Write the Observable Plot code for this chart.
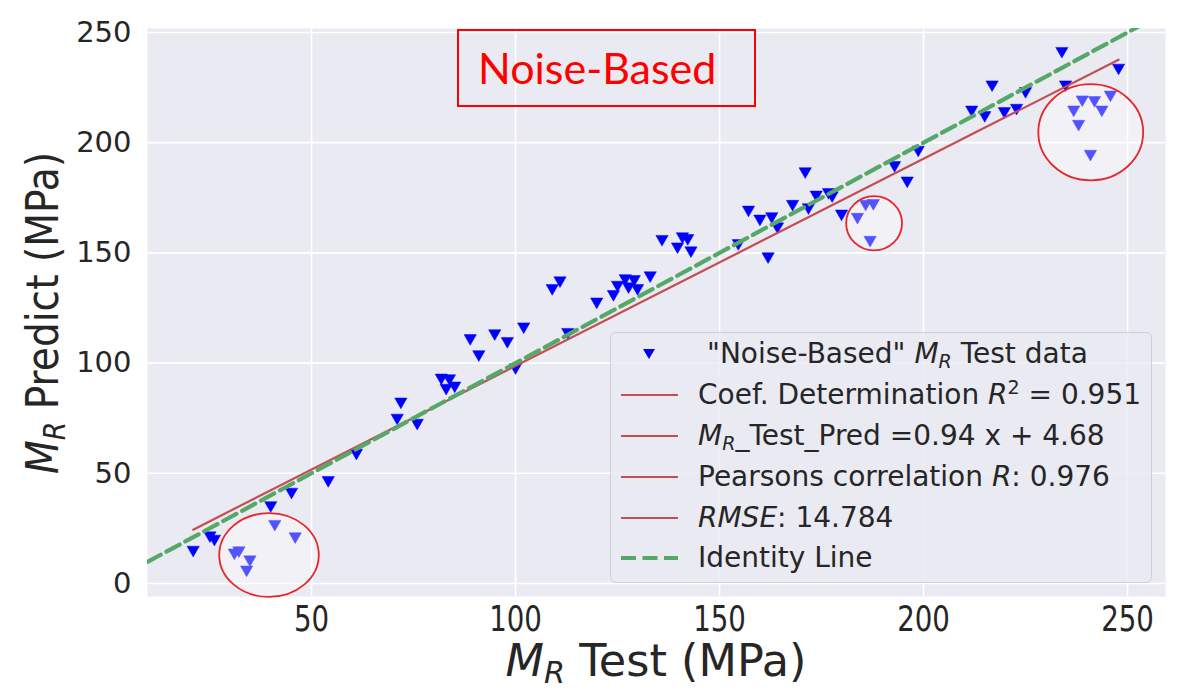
<!DOCTYPE html>
<html>
<head>
<meta charset="utf-8">
<script src="https://cdn.jsdelivr.net/npm/d3@7"></script>
<script src="https://cdn.jsdelivr.net/npm/@observablehq/plot@0.6"></script>
<style>
  body { margin: 0; background: #fff; }
  #wrap { position: relative; width: 1191px; height: 691px; overflow: hidden; }
  #legend { position: absolute; left: 610px; top: 332px; width: 542px; height: 251px;
    border: 1.2px solid #cfcfd8; border-radius: 6px; background: rgba(234,234,242,0.8);
    box-sizing: border-box; font-family: "DejaVu Sans", sans-serif; font-size: 28px; color: #262626; }
  #legend svg { position: absolute; left: 0; top: 0; }
  .row { position: absolute; left: 87px; height: 40px; line-height: 40px; white-space: nowrap; }
  .row i { font-style: italic; }
  .row sub { font-size: 0.68em; vertical-align: -0.28em; line-height: 0; }
  .row sup { font-size: 0.68em; vertical-align: 0.55em; line-height: 0; }
  #title { position: absolute; left: 457px; top: 29px; width: 299px; height: 78px;
    border: 2px solid #ff0000; box-sizing: border-box; color: #ff0000;
    font-family: Lato, "Open Sans", sans-serif; font-size: 43px; line-height: 74px; padding-left: 19px; }
</style>
</head>
<body>
<div id="wrap"></div>
<script>
// ---- data ----
const test = [21.0, 25.1, 26.2, 31.1, 32.2, 34.9, 34.1, 41.0, 46.0, 40.0, 45.1, 54.1, 61.0,
  71.9, 71.0, 75.9, 81.8, 83.8, 83.0, 85.1, 88.9, 91.0, 94.9, 98.0, 102.0, 100.0, 112.8,
  109.0, 110.9, 119.9, 124.0, 125.0, 126.9, 127.7, 129.1, 129.9, 133.0, 135.9, 139.7, 140.9, 142.2, 143.0, 154.6,
  157.1, 159.9, 162.8, 164.2, 161.9, 167.9, 171.0, 171.8, 173.7, 176.7, 177.6, 179.9, 183.8, 185.8, 187.7, 186.9, 192.9, 196.0, 198.7,
  211.8, 215.0, 216.8, 219.8, 222.8, 225.0, 233.9, 234.8, 236.8, 238.9, 238.0, 241.9, 243.7, 245.8, 240.9, 247.8];
const predict = [14.5, 21.0, 19.5, 13.2, 14.2, 10.1, 5.5, 26.2, 20.6, 34.7, 40.8, 46.1, 58.5,
  81.7, 74.4, 72.1, 92.6, 92.3, 88.0, 89.0, 110.5, 103.2, 112.7, 109.2, 115.8, 97.3, 113.3,
  133.2, 136.7, 127.1, 130.5, 134.7, 137.7, 134.0, 137.3, 133.2, 139.0, 155.5, 152.1, 156.7, 155.9, 150.3, 153.6,
  168.8, 164.7, 165.8, 161.2, 147.6, 171.4, 186.2, 169.9, 175.6, 176.8, 175.3, 167.0, 165.5, 171.5, 171.8, 155.1, 189.0, 182.0, 196.0,
  214.2, 211.7, 225.6, 213.5, 215.0, 222.6, 240.8, 225.6, 214.2, 218.8, 207.7, 218.5, 214.2, 221.0, 194.1, 233.2];
const xTicks = [50, 100, 150, 200, 250];
const yTicks = [0, 50, 100, 150, 200, 250];
const fitSlope = 0.94;
const fitIntercept = 4.68;
// highlighted groups (ellipse annotations), in data units
const circleX = [39.7, 188.0, 241.1];
const circleY = [12.7, 163.2, 204.5];
const circleRX = [12.2, 6.85, 12.85];
const circleRY = [19.0, 12.3, 21.8];
const titleText = "Noise-Based";

// ---- build ----
const points = test.map((t, i) => ({test: t, predict: predict[i]}));
const [xmin, xmax] = d3.extent(test);
const fit = [xmin, xmax].map(x => ({x, y: fitSlope * x + fitIntercept}));
const xDomain = [9.8, 259.3];
const yDomain = [-5.9, 251.8];
const identity = xDomain.map(v => ({v}));

const triangleDown = {
  draw(context, size) {
    const w = Math.sqrt(size) * 1.58, h = w * 0.87;
    context.moveTo(-w / 2, -h / 2);
    context.lineTo(w / 2, -h / 2);
    context.lineTo(0, h / 2);
    context.closePath();
  }
};

const chart = Plot.plot({
  width: 1191, height: 691,
  marginLeft: 147, marginRight: 26, marginTop: 28, marginBottom: 95,
  x: {domain: xDomain},
  y: {domain: yDomain},
  style: {background: "transparent", overflow: "visible"},
  marks: [
    Plot.frame({fill: "#EAEAF2", stroke: null}),
    Plot.gridX(xTicks, {stroke: "#ffffff", strokeOpacity: 1, strokeWidth: 1.6}),
    Plot.gridY(yTicks, {stroke: "#ffffff", strokeOpacity: 1, strokeWidth: 1.6}),
    Plot.axisX(xTicks, {tickSize: 0, tickPadding: 10, label: null}),
    Plot.axisY(yTicks, {tickSize: 0, tickPadding: 16, label: null}),
    Plot.dot(points, {x: "test", y: "predict", symbol: triangleDown, r: 4.4, fill: "#0000FF", stroke: "#0000FF", strokeWidth: 0.5}),
    Plot.line(fit, {x: "x", y: "y", stroke: "#C44E52", strokeWidth: 2.2}),
    Plot.line(identity, {x: "v", y: "v", stroke: "#55A868", strokeWidth: 4.2, strokeDasharray: "15,6.5", clip: true})
  ]
});

const svg = d3.select(chart);
svg.selectAll('g[aria-label="y-axis tick label"] text')
  .style("font-size", "29px").style("font-family", "'DejaVu Sans'").style("fill", "#262626");

// x tick labels: narrow and tall as in the reference (compress glyphs horizontally)
const xTickFont = 35;
svg.selectAll('g[aria-label="x-axis tick label"] text').each(function () {
  const t = d3.select(this);
  const n = t.text().length;
  t.style("font-size", xTickFont + "px").style("font-family", "'DejaVu Sans'").style("fill", "#262626")
    .attr("textLength", (0.636 * xTickFont * n * 0.79).toFixed(1))
    .attr("lengthAdjust", "spacingAndGlyphs");
});

// ellipse annotations through the chart scales
const sx = chart.scale("x"), sy = chart.scale("y");
const ann = svg.append("g");
circleX.forEach((cx, i) => {
  const px = sx.apply(cx), py = sy.apply(circleY[i]);
  ann.append("ellipse")
    .attr("cx", px).attr("cy", py)
    .attr("rx", Math.abs(sx.apply(cx + circleRX[i]) - px))
    .attr("ry", Math.abs(sy.apply(circleY[i] + circleRY[i]) - py))
    .attr("fill", "rgba(255,255,255,0.32)")
    .attr("stroke", "#E8252B").attr("stroke-width", 1.8);
});

// axis labels with math italic + subscript
function mathLabel(sel, rest) {
  sel.append("tspan").attr("font-style", "italic").text("M");
  sel.append("tspan").attr("font-style", "italic").attr("font-size", "0.68em").attr("dy", "0.22em").text("R");
  sel.append("tspan").attr("dy", "-0.15em").text(rest);
}
const font = "'DejaVu Sans'";
const xl = svg.append("text").attr("transform", "translate(656,676) scale(0.99,1)").attr("text-anchor", "middle")
  .style("font-family", font).style("font-size", "45px").style("fill", "#262626");
mathLabel(xl, " Test (MPa)");
const yl = svg.append("text").attr("transform", "translate(58,313) rotate(-90) scale(0.87,1)").attr("text-anchor", "middle")
  .style("font-family", font).style("font-size", "45px").style("fill", "#262626");
mathLabel(yl, " Predict (MPa)");

const wrap = document.getElementById("wrap");
wrap.appendChild(chart);

// title box
const title = document.createElement("div");
title.id = "title";
title.textContent = titleText;
wrap.appendChild(title);

// legend
const legend = document.createElement("div");
legend.id = "legend";
legend.innerHTML = `
<svg width="540" height="250">
  <path d="M32,16 L44,16 L38,26 Z" fill="#0000FF"/>
  <line x1="10" x2="67" y1="62" y2="62" stroke="#C44E52" stroke-width="2.2"/>
  <line x1="10" x2="67" y1="103" y2="103" stroke="#C44E52" stroke-width="2.2"/>
  <line x1="10" x2="67" y1="144" y2="144" stroke="#C44E52" stroke-width="2.2"/>
  <line x1="10" x2="67" y1="185" y2="185" stroke="#C44E52" stroke-width="2.2"/>
  <line x1="10" x2="67" y1="225" y2="225" stroke="#55A868" stroke-width="4.2" stroke-dasharray="15,6.5"/>
</svg>
<div class="row" style="top:1px;left:96px">"Noise-Based" <i>M</i><sub><i>R</i></sub> Test data</div>
<div class="row" style="top:42px">Coef. Determination <i>R</i><sup>2</sup> = 0.951</div>
<div class="row" style="top:83px"><i>M</i><sub><i>R</i></sub>_Test_Pred =0.94 x + 4.68</div>
<div class="row" style="top:124px">Pearsons correlation <i>R</i>: 0.976</div>
<div class="row" style="top:165px"><i>RMSE</i>: 14.784</div>
<div class="row" style="top:205px">Identity Line</div>`;
wrap.appendChild(legend);
</script>
</body>
</html>
